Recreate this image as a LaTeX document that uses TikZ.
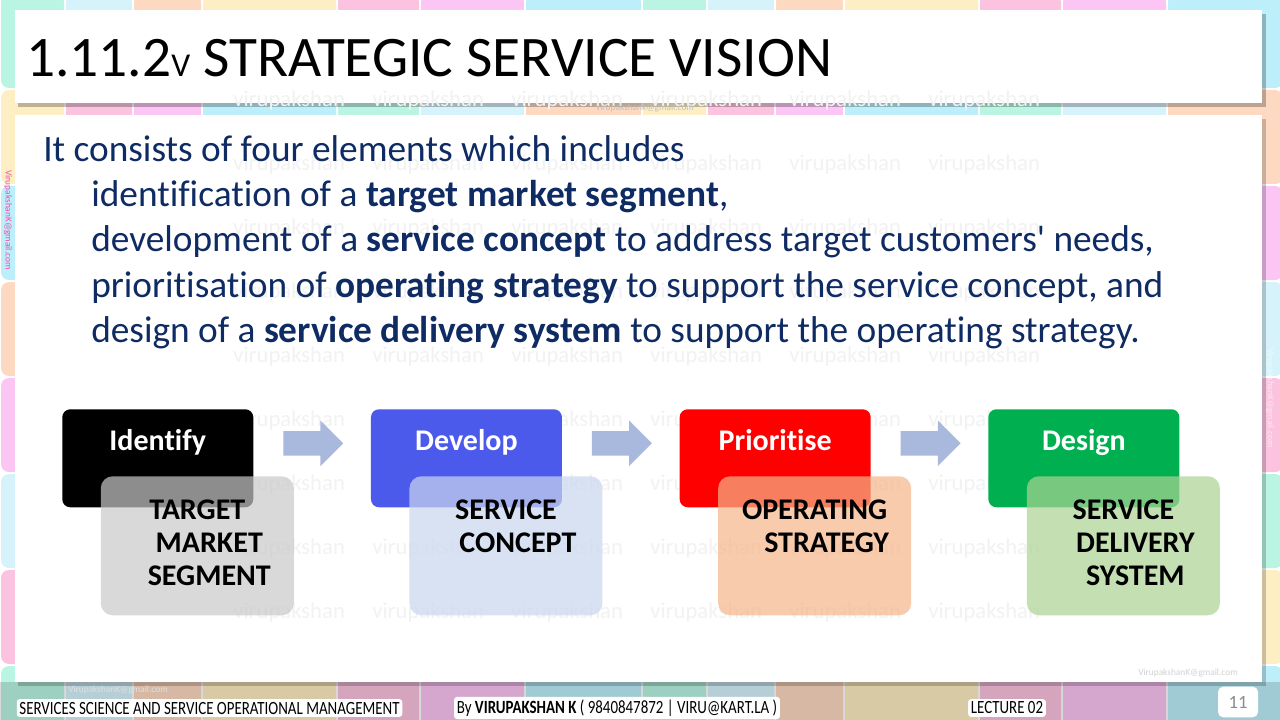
\documentclass[tikz,border=0pt]{standalone}
\usepackage{fontspec}
\setmainfont{Carlito}[Ligatures=NoCommon]
\usepackage{graphicx}
\usetikzlibrary{positioning,shapes.arrows,calc}
\definecolor{navy}{HTML}{0F2B63}
\definecolor{tile0}{HTML}{BDEFFB}
\definecolor{tile1}{HTML}{B9F5E2}
\definecolor{tile2}{HTML}{D6F3FC}
\definecolor{tile3}{HTML}{FDD9C1}
\definecolor{tile4}{HTML}{FEEEC3}
\definecolor{tile5}{HTML}{FBC3E0}
\definecolor{tile6}{HTML}{FBC5F4}
\definecolor{hblack}{HTML}{000000}
\definecolor{hblue}{HTML}{4B5AEB}
\definecolor{hred}{HTML}{FF0000}
\definecolor{hgreen}{HTML}{00B050}
\definecolor{ogray}{RGB}{201,201,201}
\definecolor{oblue}{RGB}{202,215,238}
\definecolor{oorange}{RGB}{245,181,138}
\definecolor{ogreen}{RGB}{172,211,148}
\definecolor{arrfill}{HTML}{A9B8DD}
\tikzset{
  headbox/.style={anchor=north west, rounded corners=6pt, inner sep=0pt,
    minimum width=143.25pt, minimum height=73.5pt},
  overbox/.style={anchor=north west, rounded corners=9pt, inner sep=0pt,
    minimum width=144.75pt, minimum height=104.25pt, fill opacity=0.7},
  headtxt/.style={anchor=base, text=white, inner sep=0pt, font=\fontsize{22.5}{22.5}\selectfont\bfseries},
  nountxt/.style={anchor=north, align=center, inner sep=0pt,
    font=\fontsize{22.5}{24.4}\selectfont\bfseries},
  body/.style={anchor=base west, inner sep=0pt, text=navy, font=\fontsize{28}{34}\selectfont},
  blockarr/.style={single arrow, fill=arrfill, inner xsep=0pt, inner ysep=9pt,
    minimum height=45pt, single arrow head extend=7.9pt},
  wmark/.style={anchor=west, inner sep=0pt, text=black!5, font=\fontsize{17}{17}\selectfont},
  email/.style={inner sep=0pt, font=\fontsize{7}{7}\selectfont},
  footbox/.style={fill=white, rounded corners=2pt, inner sep=2pt, font=\fontsize{14}{15}\selectfont}
}
\newcommand{\ind}{\hspace*{18pt}}
\begin{document}
\begin{tikzpicture}[x=0.75pt, y=-0.75pt]
  \useasboundingbox (0,0) rectangle (1280,720);
  % tiled backdrop
  \foreach \row in {0,...,7}{
    \foreach \x/\w [count=\i] in {0/65,65/68,133/69,202/135,337/83,420/105,525/117,642/65,707/68,775/69,844/135,979/83,1062/105,1167/117}{
      \pgfmathtruncatemacro{\c}{mod(\i+\row*3,7)}
      \fill[tile\c, rounded corners=6pt] (\x+1,\row*96-6) rectangle ++(\w-2,94);
    }
  }
  \fill[black, opacity=0.15] (0,682) rectangle (1280,720);
  % title bar and panel
  \fill[black, opacity=0.25] (18,14) rectangle (1266,107);
  \fill[white] (15,10) rectangle (1262,103);
  \fill[black, opacity=0.2] (18,119) rectangle (1266,686);
  \fill[white] (15,115) rectangle (1262,682);
  % watermark
  \foreach \r in {0,...,8}
    \foreach \c in {0,...,5}
      \node[wmark] (w\r\c) at (233+139*\c, 100+64.1*\r) {virupakshan};
  \node[anchor=base west, inner sep=0pt, font=\fontsize{43}{50}\selectfont] (title) at (26,77)
    {1.11.2{\fontsize{25}{30}\selectfont V} STRATEGIC SERVICE VISION};
  \node[body] (l1) at (43,162) {It consists of four elements which includes};
  \node[body] (l2) at (91,207) {identification of a \textbf{target market segment},};
  \node[body] (l3) at (91,252) {development of a \textbf{service concept} to address target customers\textquotesingle\ needs,};
  \node[body] (l4) at (91,297) {prioritisation of \textbf{operating strategy} to support the service concept, and};
  \node[body] (l5) at (91,342) {design of a \textbf{service delivery system} to support the operating strategy.};
  % the four elements
  \foreach \i/\hc/\oc/\verbtxt/\nountxt in {0/hblack/ogray/Identify/{TARGET\\ \ind MARKET\\ \ind SEGMENT},
      1/hblue/oblue/Develop/{SERVICE\\ \ind CONCEPT},
      2/hred/oorange/Prioritise/{OPERATING\\ \ind STRATEGY},
      3/hgreen/ogreen/Design/{SERVICE\\ \ind DELIVERY\\ \ind SYSTEM}}{
    \pgfmathsetmacro{\x}{62+308.7*\i}
    \node[headbox, fill=\hc] (h\i) at (\x,409) {};
    \node[headtxt] (v\i) at ($(h\i.north)+(0,41)$) {\verbtxt};
    \node[overbox, fill=\oc] (o\i) at (\x+38.5,476) {};
    \node[nountxt] (n\i) at ($(o\i.north)+(0,24)$) {\nountxt};
  }
  \foreach \i/\j in {0/1,1/2,2/3}
    \node[blockarr] (a\i) at ($(h\i.east)!.5!(h\j.west)+(-5,-15)$) {};
  % e-mail stamps
  \node[email, text=black!25] (e1) at (645,108) {virupakshank@gmail.com};
  \node[email, text=magenta!70, rotate=-90] (e2) at (8,220) {VirupakshanK@gmail.com};
  \node[email, text=white, opacity=0.6, rotate=-90] (e3) at (1270,398) {VirupakshanK@gmail.com};
  \node[email, text=white!75!gray] (e4) at (118,690) {VirupakshanK@gmail.com};
  \node[email, text=black!18] (e5) at (1188,673) {VirupakshanK@gmail.com};
  % footer
  \node[footbox] (f1) at (209.5,708) {\scalebox{0.8}[1]{SERVICES SCIENCE AND SERVICE OPERATIONAL MANAGEMENT}};
  \node[footbox] (f2) at (617,708) {\scalebox{0.8}[1]{By \textbf{VIRUPAKSHAN K} ( 9840847872 \textbar\ VIRU@KART.LA )}};
  \node[footbox] (f3) at (1007,708) {\scalebox{0.8}[1]{LECTURE 02}};
  \node[footbox, rounded corners=4pt, text=black!45, minimum width=30pt, minimum height=23pt] (pg) at (1238,702) {11};
\end{tikzpicture}
\end{document}
